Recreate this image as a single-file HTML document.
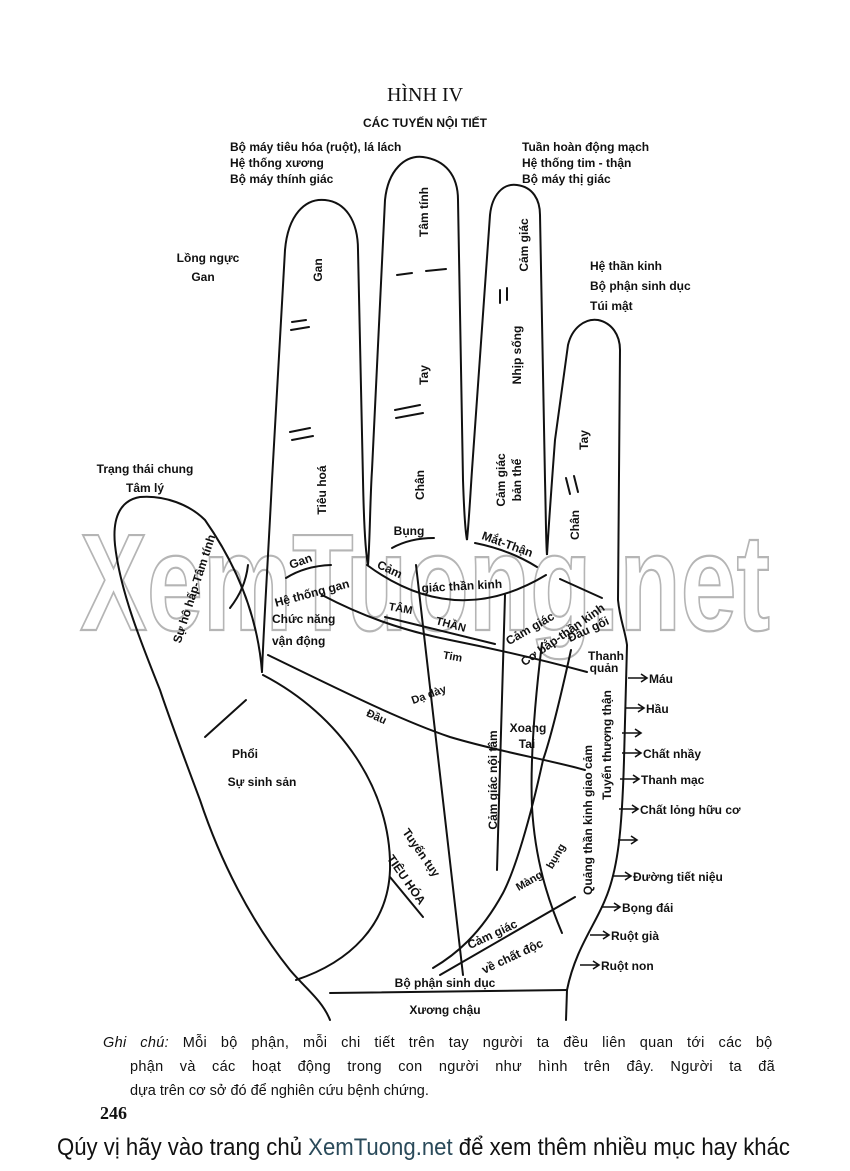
<!DOCTYPE html>
<html><head><meta charset="utf-8"><style>
html,body{margin:0;padding:0;background:#fff;}
svg{display:block;}
.l{font-family:"Liberation Sans",Arial,sans-serif;font-weight:bold;font-size:12px;fill:#111;}
</style></head><body>
<svg width="850" height="1171" viewBox="0 0 850 1171" xmlns="http://www.w3.org/2000/svg">
<rect width="850" height="1171" fill="#fff"/>
<text x="80" y="630" font-family="'Liberation Sans Narrow','Liberation Sans',sans-serif" font-weight="bold" font-size="138" textLength="690" lengthAdjust="spacingAndGlyphs" fill="none" stroke="#b5b5b5" stroke-width="2.2">XemTuong.net</text>

<text x="425" y="101" text-anchor="middle" font-family="'Liberation Serif',serif" font-size="20" fill="#111">HÌNH IV</text>
<text x="425" y="127" text-anchor="middle" class="l" font-size="13">CÁC TUYẾN NỘI TIẾT</text>

<g class="l">
<text x="230" y="151">Bộ máy tiêu hóa (ruột), lá lách</text>
<text x="230" y="167">Hệ thống xương</text>
<text x="230" y="183">Bộ máy thính giác</text>
<text x="522" y="151">Tuần hoàn động mạch</text>
<text x="522" y="167">Hệ thống tim - thận</text>
<text x="522" y="183">Bộ máy thị giác</text>
<text x="590" y="270">Hệ thần kinh</text>
<text x="590" y="290">Bộ phận sinh dục</text>
<text x="590" y="310">Túi mật</text>
<text x="208" y="262" text-anchor="middle">Lồng ngực</text>
<text x="203" y="281" text-anchor="middle">Gan</text>
<text x="145" y="473" text-anchor="middle">Trạng thái chung</text>
<text x="145" y="492" text-anchor="middle">Tâm lý</text>
</g>

<g fill="none" stroke="#111" stroke-width="2" stroke-linecap="round">
<path d="M262,672 C264,620 268,560 272,480 L285,250 C288,215 305,198 325,200 C345,202 358,220 358,250 L363,480 C364,530 366,555 368,565 C370,540 370,500 372,470 L385,200 C388,170 405,155 423,157 C445,160 458,175 458,200 L463,480 C464,510 465,530 467,540 C469,520 470,500 472,470 L490,215 C492,195 503,183 517,185 C533,187 540,200 540,215 L545,480 C546,520 546,545 547,555 C549,520 552,480 555,440 L568,345 C572,328 585,318 598,320 C612,323 620,335 620,350 L618,600 C620,620 625,630 627,645 L624,760 C622,830 618,870 605,900 C595,925 575,950 567,990 L566,1020"/>
<path d="M262,672 C258,620 240,570 205,520 C190,505 165,495 140,497 C122,500 112,515 115,545 C120,590 140,640 160,690 C170,720 185,760 200,800 C220,860 250,920 290,970 C305,988 322,1000 330,1020"/>
<path d="M263,675 C340,715 392,790 390,870 C388,925 350,962 296,980"/>
<path d="M205,737 L246,700"/>
<path d="M230,608 C240,595 246,582 248,565"/>
<path d="M330,993 L567,990"/>
<path d="M268,655 C340,690 400,720 450,737 C500,752 550,760 585,770"/>
<path d="M322,595 C360,615 400,630 450,640 C500,650 550,662 587,672"/>
<path d="M385,617 L495,644"/>
<path d="M367,565 Q455,630 546,575"/>
<path d="M286,578 Q305,566 331,565"/>
<path d="M392,548 Q410,538 434,538"/>
<path d="M475,543 Q510,550 537,567"/>
<path d="M560,579 L602,598"/>
<path d="M416,565 L463,975"/>
<path d="M505,595 L497,870"/>
<path d="M542,643 C535,700 530,760 532,807 C535,860 548,900 562,933"/>
<path d="M571,650 C560,700 550,740 543,760 C530,820 515,870 503,893 C480,935 455,955 433,968"/>
<path d="M440,975 L575,897"/>
<path d="M390,877 L423,917"/>
<path d="M292,322 L306,320 M291,330 L309,327 M290,432 L310,428 M292,440 L313,436"/>
<path d="M397,275 L412,273 M426,271 L446,269 M395,410 L420,405 M396,418 L423,413"/>
<path d="M500,290 L500,303 M507,288 L507,300"/>
<path d="M566,478 L570,494 M574,476 L578,492"/>
</g>

<g fill="none" stroke="#111" stroke-width="1.6">
<path d="M628,678 H646 M641,674 L647,678 L641,682"/>
<path d="M625,708 H643 M638,704 L644,708 L638,712"/>
<path d="M622,733 H640 M635,729 L641,733 L635,737"/>
<path d="M622,753 H640 M635,749 L641,753 L635,757"/>
<path d="M620,779 H638 M633,775 L639,779 L633,783"/>
<path d="M619,809 H637 M632,805 L638,809 L632,813"/>
<path d="M618,840 H636 M631,836 L637,840 L631,844"/>
<path d="M612,876 H630 M625,872 L631,876 L625,880"/>
<path d="M601,907 H619 M614,903 L620,907 L614,911"/>
<path d="M590,935 H608 M603,931 L609,935 L603,939"/>
<path d="M580,965 H598 M593,961 L599,965 L593,969"/>
</g>
<g class="l" font-size="12.5">
<text x="649" y="683">Máu</text>
<text x="646" y="713">Hầu</text>
<text x="643" y="758">Chất nhầy</text>
<text x="641" y="784">Thanh mạc</text>
<text x="640" y="814">Chất lỏng hữu cơ</text>
<text x="633" y="881">Đường tiết niệu</text>
<text x="622" y="912">Bọng đái</text>
<text x="611" y="940">Ruột già</text>
<text x="601" y="970">Ruột non</text>
</g>

<g class="l">
<text transform="translate(322,270) rotate(-90)" text-anchor="middle">Gan</text>
<text transform="translate(326,490) rotate(-90)" text-anchor="middle">Tiêu hoá</text>
<text transform="translate(428,212) rotate(-90)" text-anchor="middle">Tâm tính</text>
<text transform="translate(428,375) rotate(-90)" text-anchor="middle">Tay</text>
<text transform="translate(424,485) rotate(-90)" text-anchor="middle">Chân</text>
<text transform="translate(528,245) rotate(-90)" text-anchor="middle">Cảm giác</text>
<text transform="translate(521,355) rotate(-90)" text-anchor="middle">Nhịp sống</text>
<text transform="translate(505,480) rotate(-90)" text-anchor="middle">Cảm giác</text>
<text transform="translate(521,480) rotate(-90)" text-anchor="middle">bản thể</text>
<text transform="translate(588,440) rotate(-90)" text-anchor="middle">Tay</text>
<text transform="translate(579,525) rotate(-90)" text-anchor="middle">Chân</text>
<text transform="translate(198,590) rotate(-72)" text-anchor="middle">Sự hô hấp-Tâm tính</text>
<text transform="translate(497,780) rotate(-90)" text-anchor="middle">Cảm giác nội  tâm</text>
<text transform="translate(592,820) rotate(-90)" text-anchor="middle">Quảng thần kinh giao cảm</text>
<text transform="translate(611,745) rotate(-90)" text-anchor="middle">Tuyến thượng thận</text>
<text transform="translate(418,855) rotate(55)" text-anchor="middle">Tuyến tụy</text>
<text transform="translate(403,882) rotate(55)" text-anchor="middle">TIÊU HÓA</text>
<text transform="translate(531,884) rotate(-30)" text-anchor="middle" font-size="11">Màng</text>
<text transform="translate(559,858) rotate(-60)" text-anchor="middle" font-size="11">bụng</text>
<text transform="translate(494,938) rotate(-25)" text-anchor="middle">Cảm giác</text>
<text transform="translate(514,960) rotate(-25)" text-anchor="middle">về chất độc</text>
<text x="445" y="987" text-anchor="middle">Bộ phận sinh dục</text>
<text x="445" y="1014" text-anchor="middle">Xương chậu</text>
<text x="245" y="758" text-anchor="middle">Phổi</text>
<text x="262" y="786" text-anchor="middle">Sự sinh sản</text>
<text transform="translate(375,720) rotate(25)" text-anchor="middle" font-size="11">Đầu</text>
<text transform="translate(430,698) rotate(-20)" text-anchor="middle" font-size="11">Dạ dày</text>
<text x="528" y="732" text-anchor="middle">Xoang</text>
<text x="527" y="748" text-anchor="middle">Tai</text>
<text transform="translate(452,660) rotate(10)" text-anchor="middle" font-size="11">Tim</text>
<text transform="translate(400,612) rotate(10)" text-anchor="middle" font-size="11">TÂM</text>
<text transform="translate(450,628) rotate(15)" text-anchor="middle" font-size="11">THẦN</text>
<text transform="translate(313,597) rotate(-15)" text-anchor="middle">Hệ thống gan</text>
<text x="272" y="623">Chức năng</text>
<text x="272" y="645">vận động</text>
<text transform="translate(302,565) rotate(-20)" text-anchor="middle">Gan</text>
<text transform="translate(388,573) rotate(25)" text-anchor="middle">Cảm</text>
<text transform="translate(462,590) rotate(-3)" text-anchor="middle">giác thần  kinh</text>
<text x="409" y="535" text-anchor="middle">Bụng</text>
<text transform="translate(506,548) rotate(20)" text-anchor="middle">Mắt-Thận</text>
<text transform="translate(532,632) rotate(-30)" text-anchor="middle">Cảm giác</text>
<text transform="translate(565,638) rotate(-35)" text-anchor="middle">Cơ bắp-thần kinh</text>
<text transform="translate(590,633) rotate(-25)" text-anchor="middle">Đầu gối</text>
<text x="606" y="660" text-anchor="middle">Thanh</text>
<text x="604" y="672" text-anchor="middle">quản</text>
</g>

<g font-family="'Liberation Sans',Arial,sans-serif" font-size="14.5" fill="#111">
<text x="103" y="1047" word-spacing="9.5" letter-spacing="0.3"><tspan font-style="italic">Ghi chú:</tspan> Mỗi bộ phận, mỗi chi tiết trên tay người ta đều liên quan tới các bộ</text>
<text x="130" y="1071" word-spacing="12" letter-spacing="0.3">phận và các hoạt động trong con người như hình trên đây. Người ta đã</text>
<text x="130" y="1095">dựa trên cơ sở đó để nghiên cứu bệnh chứng.</text>
</g>
<text x="100" y="1119" font-family="'Liberation Serif',serif" font-weight="bold" font-size="18" fill="#111">246</text>
<text x="57" y="1155" font-family="'Liberation Sans Narrow','Liberation Sans',sans-serif" font-size="24" textLength="733" lengthAdjust="spacingAndGlyphs" fill="#111">Qúy vị hãy vào trang chủ <tspan fill="#2a4a5a">XemTuong.net</tspan> để xem thêm nhiều mục hay khác</text>
</svg>
</body></html>
